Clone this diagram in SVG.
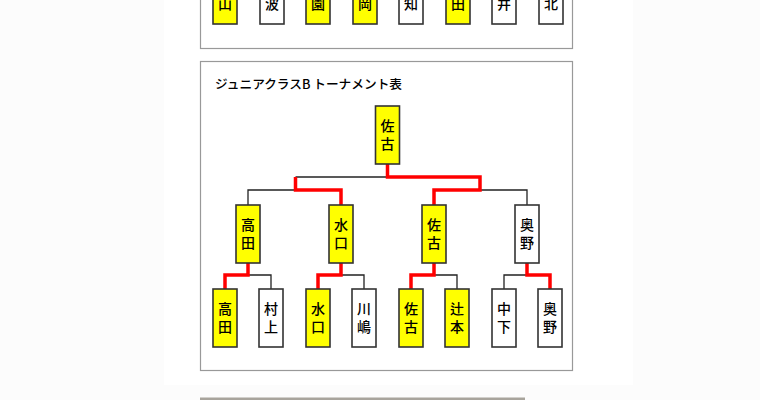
<svg xmlns="http://www.w3.org/2000/svg" width="760" height="400" viewBox="0 0 760 400">
<style>
.panel{fill:#fff;stroke:#999;stroke-width:1.2}
.box{stroke:#333;stroke-width:1.6}
.win{fill:#ffff00}
.lose{fill:#fff}
.t{font-family:"Noto Sans CJK JP","Liberation Sans",sans-serif;font-size:14px;font-weight:500;fill:#000;text-anchor:middle;writing-mode:vertical-rl;letter-spacing:3.5px}
.title{font-family:"Noto Sans CJK JP","Liberation Sans",sans-serif;font-size:12.5px;font-weight:500;fill:#000}
.thin{fill:none;stroke:#222;stroke-width:1.3}
.red{fill:none;stroke:#ff0000;stroke-width:3.5;stroke-linejoin:miter}
</style>
<rect x="0" y="0" width="760" height="400" fill="#fcfcfc"/>
<rect x="164" y="0" width="469" height="385" fill="#fff"/>
<rect x="200" y="397.5" width="325" height="2.5" fill="#a8a49c"/>

<g id="panel-top">
<rect class="panel" x="200.5" y="-10" width="372" height="58.5"/>
<g id="top-boxes">
<rect class="box win" x="213" y="-34" width="24" height="58"/><text class="t" x="225" y="5.5">山</text>
<rect class="box lose" x="260" y="-34" width="24" height="58"/><text class="t" x="272" y="5.5">波</text>
<rect class="box win" x="306" y="-34" width="24" height="58"/><text class="t" x="318" y="5.5">園</text>
<rect class="box win" x="353" y="-34" width="24" height="58"/><text class="t" x="365" y="5.5">岡</text>
<rect class="box lose" x="399" y="-34" width="24" height="58"/><text class="t" x="411" y="5.5">知</text>
<rect class="box win" x="446" y="-34" width="24" height="58"/><text class="t" x="458" y="5.5">田</text>
<rect class="box lose" x="492" y="-34" width="24" height="58"/><text class="t" x="504" y="5.5">井</text>
<rect class="box lose" x="539" y="-34" width="24" height="58"/><text class="t" x="551" y="5.5">北</text>
</g>
</g>

<rect class="panel" x="200.5" y="61.5" width="372" height="309"/>
<text class="title" x="215" y="89" textLength="187" lengthAdjust="spacingAndGlyphs">ジュニアクラスB トーナメント表</text>

<g id="connectors">
<polyline class="thin" points="295.5,177 387.5,177"/>
<polyline class="thin" points="295.5,190 248,190 248,205"/>
<polyline class="thin" points="480,190 527,190 527,205"/>
<polyline class="thin" points="248,275 271,275 271,289"/>
<polyline class="thin" points="341,275 364,275 364,289"/>
<polyline class="thin" points="434,275 457,275 457,289"/>
<polyline class="thin" points="527,275 504,275 504,289"/>
<polyline class="red" points="387.5,164 387.5,177 480,177 480,190 434,190 434,205"/>
<polyline class="red" points="295.5,177 295.5,190 341,190 341,205"/>
<polyline class="red" points="248,263 248,275 225,275 225,289"/>
<polyline class="red" points="341,263 341,275 318,275 318,289"/>
<polyline class="red" points="434,263 434,275 411,275 411,289"/>
<polyline class="red" points="527,263 527,275 550,275 550,289"/>
</g>

<g id="final-saka"><rect class="box win" x="375.5" y="106" width="24" height="58"/><text class="t" x="387.5" y="136.5">佐古</text></g>

<g id="semi-takada"><rect class="box win" x="236" y="205" width="24" height="58"/><text class="t" x="248" y="235.5">高田</text></g>
<g id="semi-mizuguchi"><rect class="box win" x="329" y="205" width="24" height="58"/><text class="t" x="341" y="235.5">水口</text></g>
<g id="semi-saka"><rect class="box win" x="422" y="205" width="24" height="58"/><text class="t" x="434" y="235.5">佐古</text></g>
<g id="semi-okuno"><rect class="box lose" x="515" y="205" width="24" height="58"/><text class="t" x="527" y="235.5">奥野</text></g>

<g id="r1-takada"><rect class="box win" x="213" y="289" width="24" height="58"/><text class="t" x="225" y="319.5">高田</text></g>
<g id="r1-murakami"><rect class="box lose" x="259" y="289" width="24" height="58"/><text class="t" x="271" y="319.5">村上</text></g>
<g id="r1-mizuguchi"><rect class="box win" x="306" y="289" width="24" height="58"/><text class="t" x="318" y="319.5">水口</text></g>
<g id="r1-kawashima"><rect class="box lose" x="352" y="289" width="24" height="58"/><text class="t" x="364" y="319.5">川嶋</text></g>
<g id="r1-saka"><rect class="box win" x="399" y="289" width="24" height="58"/><text class="t" x="411" y="319.5">佐古</text></g>
<g id="r1-tsujimoto"><rect class="box win" x="445" y="289" width="24" height="58"/><text class="t" x="457" y="319.5">辻本</text></g>
<g id="r1-nakashita"><rect class="box lose" x="492" y="289" width="24" height="58"/><text class="t" x="504" y="319.5">中下</text></g>
<g id="r1-okuno"><rect class="box lose" x="538" y="289" width="24" height="58"/><text class="t" x="550" y="319.5">奥野</text></g>
</svg>
